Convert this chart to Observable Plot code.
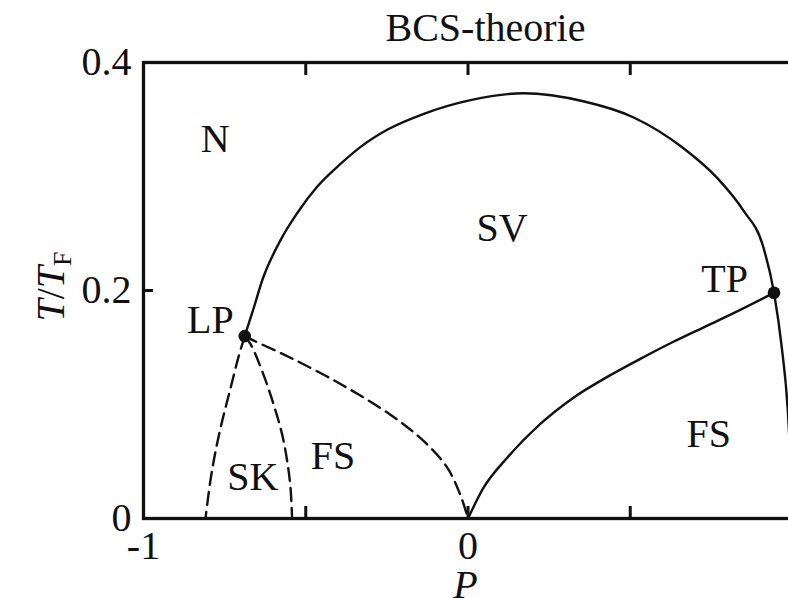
<!DOCTYPE html>
<html><head><meta charset="utf-8">
<script src="https://cdn.jsdelivr.net/npm/d3@7"></script>
<script src="https://cdn.jsdelivr.net/npm/@observablehq/plot@0.6"></script>
<style>
html,body{margin:0;padding:0;background:#fff;overflow:hidden;}
#title{font-family:"Liberation Serif",serif;font-size:40px;line-height:50px;height:53px;padding-top:3px;padding-left:183px;width:788px;box-sizing:border-box;text-align:center;color:#111;}
</style></head><body>
<div id="title">BCS-theorie</div>
<div id="chart"></div>
<script>
// Phase boundaries (P, T/T_F)
const domeP = [-0.688, -0.660, -0.634, -0.578, -0.526, -0.465, -0.393, -0.331, -0.249, -0.136, 0.008, 0.172, 0.355, 0.509, 0.663, 0.767, 0.849, 0.908, 0.943, 0.967, 0.985, 0.997];
const domeT = [0.160, 0.185, 0.209, 0.244, 0.268, 0.291, 0.311, 0.326, 0.341, 0.355, 0.367, 0.373, 0.366, 0.352, 0.325, 0.299, 0.270, 0.240, 0.198, 0.150, 0.097, 0.030];

const tpLineP = [0, 0.048, 0.120, 0.223, 0.325, 0.428, 0.531, 0.633, 0.736, 0.839, 0.943];
const tpLineT = [0, 0.027, 0.053, 0.083, 0.106, 0.124, 0.140, 0.155, 0.169, 0.183, 0.198];

const skLeftP = [-0.688, -0.707, -0.732, -0.758, -0.778, -0.794, -0.809];
const skLeftT = [0.160, 0.142, 0.114, 0.085, 0.059, 0.033, 0];

const skRightP = [-0.688, -0.670, -0.630, -0.599, -0.573, -0.557, -0.547, -0.542];
const skRightT = [0.160, 0.153, 0.126, 0.100, 0.074, 0.050, 0.027, 0];

const fsDashP = [-0.688, -0.660, -0.547, -0.393, -0.239, -0.137, -0.065, -0.024, 0];
const fsDashT = [0.160, 0.156, 0.141, 0.118, 0.091, 0.068, 0.045, 0.021, 0];

const pointP = [-0.688, 0.943];
const pointT = [0.160, 0.198];

const regionNames = ["N", "SV", "LP", "TP", "SK", "FS", "FS"];
const regionP = [-0.779, 0.105, -0.794, 0.791, -0.663, -0.416, 0.742];
const regionT = [0.333, 0.255, 0.174, 0.210, 0.036, 0.055, 0.074];

const xTickValues = [-0.5, 0, 0.5, 1];
const yTickValues = [0.2];
const xLabelValues = [-1, 0];
const yLabelValues = [0, 0.2, 0.4];

const zip = (P, T) => P.map((p, i) => ({P: p, T: T[i]}));
const regions = regionNames.map((n, i) => ({name: n, P: regionP[i], T: regionT[i]}));

const ink = "#111";
const solid = {x: "P", y: "T", stroke: ink, strokeWidth: 2.4, curve: "monotone-x"};
const dashed = {x: "P", y: "T", stroke: ink, strokeWidth: 2.4, curve: "catmull-rom", strokeDasharray: "13,7"};

const plot = Plot.plot({
  width: 788, height: 545,
  marginTop: 9, marginBottom: 80, marginLeft: 143, marginRight: -4,
  x: {domain: [-1, 1]},
  y: {domain: [0, 0.4]},
  style: {fontFamily: '"Liberation Serif", serif', fontSize: "40px", color: ink, background: "transparent", display: "block", overflow: "visible"},
  marks: [
    Plot.line(zip(domeP, domeT), solid),
    Plot.line(zip(tpLineP, tpLineT), solid),
    Plot.line(zip(skLeftP, skLeftT), dashed),
    Plot.line(zip(skRightP, skRightT), dashed),
    Plot.line(zip(fsDashP, fsDashT), dashed),
    Plot.dot(zip(pointP, pointT), {x: "P", y: "T", r: 6.3, fill: ink}),
    Plot.text(regions, {x: "P", y: "T", text: "name", fontSize: 40, fill: ink}),
    Plot.frame({stroke: ink, strokeWidth: 3.3}),
    Plot.axisX(xTickValues, {anchor: "bottom", tickSize: -12, strokeWidth: 3, tickFormat: () => "", label: null}),
    Plot.axisX(xTickValues, {anchor: "top", tickSize: -12, strokeWidth: 3, tickFormat: () => "", label: null}),
    Plot.axisY(yTickValues, {anchor: "left", tickSize: -10, strokeWidth: 3, tickFormat: () => "", label: null}),
    Plot.axisX(xLabelValues, {anchor: "bottom", tickSize: 0, tickPadding: 12, fontSize: 40, tickFormat: d => String(d), label: null}),
    Plot.axisY(yLabelValues, {anchor: "left", tickSize: 0, tickPadding: 12, fontSize: 40, tickFormat: d => String(d), label: null}),
    Plot.text([{P: 0, label: "P"}], {x: "P", text: "label", frameAnchor: "bottom", lineAnchor: "bottom", dy: 79, dx: -2.5, fontStyle: "italic", fontSize: 40, fill: ink}),
    Plot.text([{label: "T/TF"}], {text: "label", frameAnchor: "left", textAnchor: "middle", rotate: -90, lineAnchor: "bottom", dx: -80, dy: -4, fontSize: 40, fill: ink})
  ]
});

// Italic T and subscript F in the y-axis label
d3.select(plot).selectAll("text").filter(function () { return this.textContent === "T/TF"; }).each(function () {
  const t = d3.select(this);
  t.text(null);
  t.append("tspan").attr("font-style", "italic").text("T");
  t.append("tspan").text("/");
  t.append("tspan").attr("font-style", "italic").text("T");
  t.append("tspan").attr("font-size", 26).attr("dy", 7).text("F");
});

document.getElementById("chart").appendChild(plot);
</script></body></html>
